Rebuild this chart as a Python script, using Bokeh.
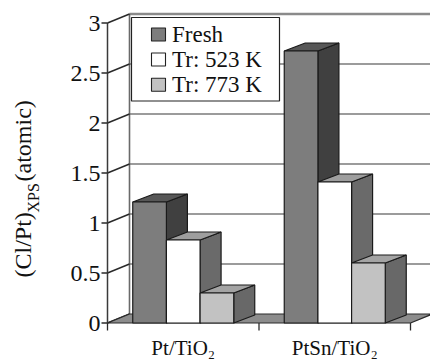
import math
from bokeh.plotting import figure
from bokeh.models import Range1d, ColumnDataSource
from bokeh.embed import file_html
from bokeh.resources import INLINE
from bokeh.core.properties import value

# ---------------- data ----------------
categories = ["Pt/TiO\u2082", "PtSn/TiO\u2082"]
series_names = ["Fresh", "Tr: 523 K", "Tr: 773 K"]
fresh = [1.21, 2.72]
tr_523 = [0.83, 1.41]
tr_773 = [0.30, 0.60]
y_ticks = [0, 0.5, 1, 1.5, 2, 2.5, 3]
y_tick_labels = ["0", "0.5", "1", "1.5", "2", "2.5", "3"]
series_values = [fresh, tr_523, tr_773]

# ---------------- styles / geometry ----------------
W, H = 430, 359
X0PX, CATPX, Y0PX, UNITPX = 107.0, 151.5, 322.5, 100.0
FONT = "'Liberation Serif', 'Times New Roman', Times, serif"

def dx(px):
    return (px - X0PX) / CATPX

def dy(py):
    return (Y0PX - py) / UNITPX

DXW, DYW = 22 / CATPX, 9 / UNITPX      # wall depth
DXB, DYB = 21 / CATPX, 8 / UNITPX      # bar depth
GAP = 1.5                               # gap width (fraction of bar width)
n_series = len(series_names)
bar_w = 1.0 / (n_series + GAP)
front_col = ["#7d7d7d", "#ffffff", "#c2c2c2"]
top_col = ["#575757", "#9e9e9e", "#a4a4a4"]
side_col = ["#404040", "#6a6a6a", "#686868"]
edge = "#1a1a1a"
ymax = y_ticks[-1]
ncat = len(categories)

p = figure(width=W, height=H, x_range=Range1d(dx(0), dx(W)), y_range=Range1d(dy(H), dy(0)),
           output_backend="svg", toolbar_location=None, min_border=0,
           x_axis_location=None, y_axis_location=None,
           outline_line_color=None, background_fill_color="white", border_fill_color="white")
p.grid.visible = False

# back wall gridlines
gv = y_ticks[1:]
p.segment(x0=[DXW] * len(gv), y0=[v + DYW for v in gv], x1=[ncat + DXW + 0.2] * len(gv),
          y1=[v + DYW for v in gv], line_color="#7a7a7a", line_width=1.6)
p.segment(x0=[DXW], y0=[ymax + DYW], x1=[ncat + DXW + 0.2], y1=[ymax + DYW],
          line_color="#8a8a8a", line_width=2.6)
# left wall
p.segment(x0=[DXW], y0=[DYW], x1=[DXW], y1=[ymax + DYW], line_color="#6a6a6a", line_width=1.6)
p.segment(x0=[0] * len(y_ticks), y0=y_ticks, x1=[DXW] * len(y_ticks),
          y1=[v + DYW for v in y_ticks], line_color="#2a2a2a", line_width=1.5)
# floor
p.patch(x=[0, ncat, ncat + DXW, DXW], y=[0, 0, DYW, DYW], fill_color="#8c8c8c",
        line_color="#2a2a2a", line_width=1.2)
# axis line and ticks
p.segment(x0=[0], y0=[0], x1=[0], y1=[ymax], line_color="#3a3a3a", line_width=1.5)
p.segment(x0=[dx(101)] * len(y_ticks), y0=y_ticks, x1=[0] * len(y_ticks), y1=y_ticks,
          line_color="#2a2a2a", line_width=1.3)
cat_edges = list(range(ncat + 1))
p.segment(x0=cat_edges, y0=[0] * len(cat_edges), x1=cat_edges, y1=[dy(330)] * len(cat_edges),
          line_color="#2a2a2a", line_width=1.3)

# bars
xs, ys, cols = [], [], []
for c in range(ncat):
    for s in range(n_series):
        h = series_values[s][c]
        L = c + GAP / 2 * bar_w + s * bar_w
        R = L + bar_w
        xs.append([R, R + DXB, R + DXB, R]); ys.append([0, DYB, h + DYB, h]); cols.append(side_col[s])
        xs.append([L, R, R + DXB, L + DXB]); ys.append([h, h, h + DYB, h + DYB]); cols.append(top_col[s])
        xs.append([L, R, R, L]); ys.append([0, 0, h, h]); cols.append(front_col[s])
p.patches(xs="xs", ys="ys", fill_color="c", line_color=edge, line_width=1.2,
          source=ColumnDataSource(dict(xs=xs, ys=ys, c=cols)))

# y tick labels
p.text(x=[dx(100)] * len(y_ticks), y=y_ticks, text=y_tick_labels, text_align="right",
       text_baseline="middle", text_font=value(FONT), text_font_size=value("24px"),
       text_color="#111111")
# category labels
p.text(x=[c + 0.5 for c in range(ncat)], y=[dy(347)] * ncat, text=categories,
       text_align="center", text_baseline="middle", text_font=value(FONT),
       text_font_size=value("21px"), text_color="#111111")

# y axis title (rotated, with subscript)
p.text(x=[dx(22.5)], y=[dy(277)], text=["(Cl/Pt)"], angle=math.pi / 2, text_align="left",
       text_baseline="middle", text_font=value(FONT), text_font_size=value("24px"),
       text_color="#111111")
p.text(x=[dx(33)], y=[dy(212)], text=["XPS"], angle=math.pi / 2, text_align="left",
       text_baseline="middle", text_font=value(FONT), text_font_size=value("16px"),
       text_color="#111111")
p.text(x=[dx(22.5)], y=[dy(181)], text=["(atomic)"], angle=math.pi / 2, text_align="left",
       text_baseline="middle", text_font=value(FONT), text_font_size=value("24px"),
       text_color="#111111")

# legend
p.quad(left=[dx(131)], right=[dx(279)], top=[dy(17)], bottom=[dy(100.5)],
       fill_color="white", line_color="#222222", line_width=1.2)
leg_y = [34, 59, 84.3]
p.quad(left=[dx(151)] * n_series, right=[dx(165)] * n_series,
       top=[dy(v - 6.5) for v in leg_y], bottom=[dy(v + 6.5) for v in leg_y],
       fill_color=front_col, line_color="#222222", line_width=1.1)
p.text(x=[dx(171.5)] * n_series, y=[dy(v - 0.5) for v in leg_y], text=series_names,
       text_align="left", text_baseline="middle", text_font=value(FONT),
       text_font_size=value("23px"), text_color="#111111")

open("out.html", "w").write(file_html(p, INLINE))
